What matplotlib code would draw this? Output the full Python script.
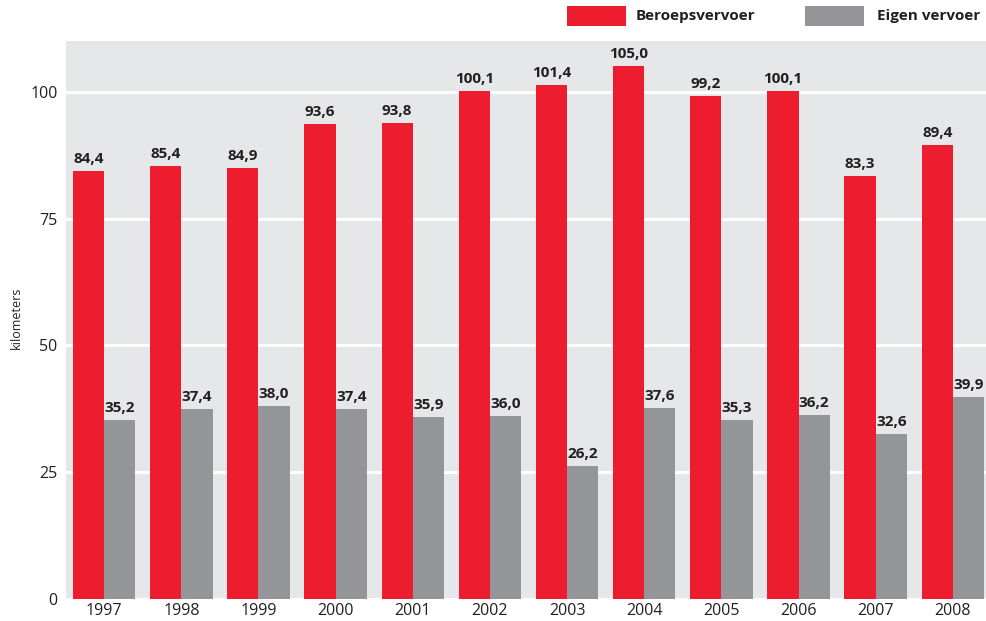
import matplotlib
matplotlib.use("Agg")
import matplotlib.pyplot as plt
from matplotlib.patches import Rectangle
import numpy as np

years = ["1997", "1998", "1999", "2000", "2001", "2002", "2003", "2004", "2005", "2006", "2007", "2008"]
beroeps = [84.4, 85.4, 84.9, 93.6, 93.8, 100.1, 101.4, 105.0, 99.2, 100.1, 83.3, 89.4]
eigen = [35.2, 37.4, 38.0, 37.4, 35.9, 36.0, 26.2, 37.6, 35.3, 36.2, 32.6, 39.9]
series_names = ["Beroepsvervoer", "Eigen vervoer"]
yticks = [0, 25, 50, 75, 100]

RED = "#ED1C2E"
GRAY = "#939598"
BG = "#E6E7E8"
TXT = "#231F20"

plt.rcParams['font.family'] = ['Open Sans', 'DejaVu Sans']

fig = plt.figure(figsize=(9.86, 6.21), dpi=100)
ax = fig.add_axes([66/986, 22/621, 920/986, 558/621])
ax.set_facecolor(BG)

x = np.arange(len(years))
w = 0.405
ax.bar(x - w/2, beroeps, w, color=RED, zorder=3, label=series_names[0])
ax.bar(x + w/2, eigen, w, color=GRAY, zorder=3, label=series_names[1])

for xi, v in zip(x, beroeps):
    ax.text(xi - w/2, v + 1.0, f"{v:.1f}".replace(".", ","), ha="center", va="bottom",
            fontsize=11, fontweight="bold", color=TXT, zorder=4)
for xi, v in zip(x, eigen):
    ax.text(xi + w/2, v + 1.0, f"{v:.1f}".replace(".", ","), ha="center", va="bottom",
            fontsize=11, fontweight="bold", color=TXT, zorder=4)

ax.set_xlim(-0.495, 11.43)
ax.set_ylim(0, 110)
ax.set_yticks(yticks)
ax.set_yticklabels([str(t) for t in yticks], fontsize=11.5, color=TXT)
ax.set_xticks(x)
ax.set_xticklabels(years, fontsize=11.5, color=TXT)
ax.tick_params(length=0, pad=6)
ax.tick_params(axis='x', pad=3)
ax.yaxis.grid(True, color="white", linewidth=2.2, zorder=1)
ax.set_axisbelow(True)
for s in ax.spines.values():
    s.set_visible(False)

fig.text(16/986, 1 - 318/621, "kilometers", fontsize=9, color=TXT, rotation=90,
         ha="center", va="center")

# legend
fig.patches.append(Rectangle((567/986, 1 - 26/621), 59/986, 20/621, transform=fig.transFigure,
                             facecolor=RED, edgecolor="none"))
fig.text(636/986, 1 - 16/621, series_names[0], fontsize=11, fontweight="bold", color=TXT, va="center")
fig.patches.append(Rectangle((805/986, 1 - 26/621), 59/986, 20/621, transform=fig.transFigure,
                             facecolor=GRAY, edgecolor="none"))
fig.text(877/986, 1 - 16/621, series_names[1], fontsize=11, fontweight="bold", color=TXT, va="center")

fig.savefig("out.png", dpi=100)
